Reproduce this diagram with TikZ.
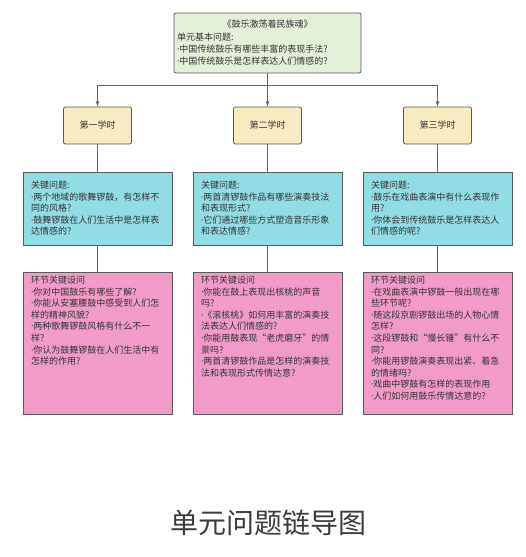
\documentclass[tikz,border=0pt]{standalone}
\usepackage{fontspec}
\setmainfont{Noto Sans CJK SC}
\newfontfamily\dotfont{Noto Sans}
\newcommand\qdot{{\dotfont ·}}
\usepackage{xcolor}
\usetikzlibrary{arrows}
\definecolor{rootfill}{HTML}{E3EFD9}
\definecolor{hourfill}{HTML}{F7EBC1}
\definecolor{keyfill}{HTML}{90DDE3}
\definecolor{askfill}{HTML}{F29BC9}
\definecolor{boxline}{HTML}{5A5A5A}
\definecolor{linkline}{HTML}{666666}
\definecolor{textgray}{HTML}{333333}
\definecolor{titlegray}{HTML}{3C3C3C}

\begin{document}
\begin{tikzpicture}[
  every node/.style={text=textgray},
  rootbox/.style={draw=boxline, fill=rootfill, line width=0.8pt, rounded corners=2pt, text width=181pt, inner xsep=3pt, minimum height=60pt, align=left, font=\fontsize{9pt}{12.3pt}\selectfont},
  hourbox/.style={draw=boxline, fill=hourfill, line width=0.8pt, rounded corners=2pt, minimum width=68pt, minimum height=37pt, font=\fontsize{9pt}{11pt}\selectfont},
  keybox/.style={draw=boxline, fill=keyfill, line width=0.8pt, text width=133pt, inner xsep=8pt, minimum height=73pt, align=left, font=\fontsize{9pt}{11.5pt}\selectfont},
  askbox/.style={draw=boxline, fill=askfill, line width=0.8pt, inner xsep=8pt, inner ysep=4pt, font=\fontsize{9pt}{11.6pt}\selectfont,
    execute at begin node={\begin{minipage}[c][134pt][t]{133pt}\raggedright}, execute at end node={\end{minipage}}},
  level 1/.style={sibling distance=170pt, level distance=82.5pt,
    edge from parent path={(\tikzparentnode.south) -- ++(0,-12pt) -| (\tikzchildnode.north)},
    edge from parent/.style={draw, linkline, line width=0.8pt, -latex}},
  level 2/.style={level distance=83pt,
    edge from parent path={(\tikzparentnode.south) -- (\tikzchildnode.north)},
    edge from parent/.style={draw, linkline, line width=0.8pt}},
  level 3/.style={level distance=134.5pt}]
\path[fill=white, use as bounding box] (0,0) rectangle (526pt,557pt);
\node [rootbox] (unit) at (267.5pt,514pt) {\makebox[\hsize]{《鼓乐激荡着民族魂》}\\
  单元基本问题:\\
  \qdot 中国传统鼓乐有哪些丰富的表现手法?\\
  \qdot 中国传统鼓乐是怎样表达人们情感的?}
  child {node [hourbox] (h1) {第一学时}
        child {node [keybox] (k1) {关键问题:\\
              \qdot 两个地域的歌舞锣鼓，有怎样不\\
              同的风格?\\
              \qdot 鼓舞锣鼓在人们生活中是怎样表\\
              达情感的?}
              child {node [askbox] (a1) {环节关键设问\\
                    \qdot 你对中国鼓乐有哪些了解?\\
                    \qdot 你能从安塞腰鼓中感受到人们怎\\
                    样的精神风貌?\\
                    \qdot 两种歌舞锣鼓风格有什么不一\\
                    样?\\
                    \qdot 你认为鼓舞锣鼓在人们生活中有\\
                    怎样的作用?}
              }
        }
  }
  child {node [hourbox] (h2) {第二学时}
        child {node [keybox] (k2) {关键问题:\\
              \qdot 两首清锣鼓作品有哪些演奏技法\\
              和表现形式?\\
              \qdot 它们通过哪些方式塑造音乐形象\\
              和表达情感?}
              child {node [askbox] (a2) {环节关键设问\\
                    \qdot 你能在鼓上表现出核桃的声音\\
                    吗?\\
                    \qdot 《滚核桃》如何用丰富的演奏技\\
                    法表达人们情感的?\\
                    \qdot 你能用鼓表现“老虎磨牙”的情\\
                    景吗?\\
                    \qdot 两首清锣鼓作品是怎样的演奏技\\
                    法和表现形式传情达意?}
              }
        }
  }
  child {node [hourbox] (h3) {第三学时}
        child {node [keybox] (k3) {关键问题:\\
              \qdot 鼓乐在戏曲表演中有什么表现作\\
              用?\\
              \qdot 你体会到传统鼓乐是怎样表达人\\
              们情感的呢?}
              child {node [askbox] (a3) {环节关键设问\\
                    \qdot 在戏曲表演中锣鼓一般出现在哪\\
                    些环节呢?\\
                    \qdot 随这段京剧锣鼓出场的人物心情\\
                    怎样?\\
                    \qdot 这段锣鼓和“慢长锤”有什么不\\
                    同?\\
                    \qdot 你能用锣鼓演奏表现出紧、着急\\
                    的情绪吗?\\
                    \qdot 戏曲中锣鼓有怎样的表现作用\\
                    \qdot 人们如何用鼓乐传情达意的?}
              }
        }
  };
\node [text=titlegray, font=\fontsize{28pt}{32pt}\selectfont] (title) at (268pt,34pt) {单元问题链导图};
\end{tikzpicture}
\end{document}
